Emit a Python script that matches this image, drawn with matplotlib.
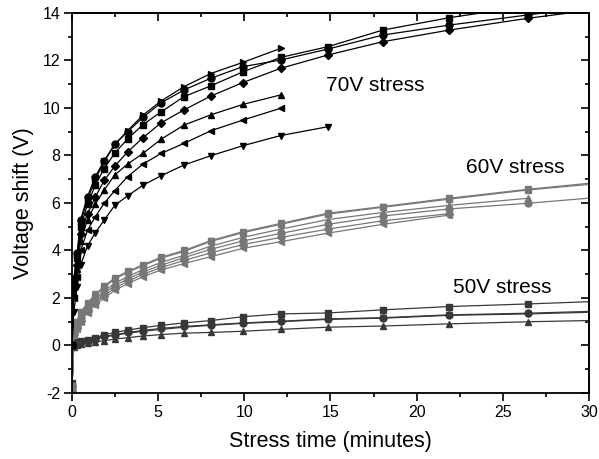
import matplotlib
matplotlib.use("Agg")
import matplotlib.pyplot as plt
from matplotlib.ticker import MultipleLocator

plt.rcParams['font.family'] = ['Liberation Sans', 'DejaVu Sans']
plt.rcParams['axes.unicode_minus'] = False

# ---- data ----
t = [0, 0.1, 0.3, 0.5, 0.9, 1.35, 1.87, 2.48, 3.23, 4.12, 5.18, 6.5, 8.05,
     9.91, 12.11, 14.84, 18.03, 21.88, 26.48, 32.1]

# 70V stress (black)
v70_circle = [0.0, 2.8, 3.9, 5.3, 6.27, 7.11, 7.78, 8.48, 9.0, 9.61, 10.22, 10.76,
              11.25, 11.74, 12.02, 12.48, 13.07, 13.49, 13.92, 14.45]
v70_square = [0.0, 2.6, 3.7, 5.0, 5.95, 6.75, 7.45, 8.1, 8.7, 9.3, 9.84, 10.48,
              10.93, 11.52, 12.13, 12.58, 13.28, 13.80, 14.3, 14.9]
v70_diamond = [0.0, 2.4, 3.4, 4.7, 5.55, 6.25, 6.95, 7.55, 8.15, 8.75, 9.38, 9.92,
               10.5, 11.07, 11.67, 12.23, 12.79, 13.28, 13.78, 14.3]
v70_right = [0.0, 2.7, 3.8, 5.2, 6.15, 7.0, 7.75, 8.45, 9.05, 9.7, 10.3, 10.9,
             11.45, 11.92, 12.51]
v70_up = [0.0, 2.2, 3.2, 4.4, 5.3, 5.95, 6.55, 7.18, 7.64, 8.09, 8.69, 9.28,
          9.71, 10.15, 10.55]
v70_left = [0.0, 2.0, 2.9, 4.0, 4.85, 5.42, 5.99, 6.52, 7.11, 7.64, 8.09, 8.51,
            9.04, 9.49, 9.99]
v70_down = [0.0, 1.4, 2.48, 3.39, 4.19, 4.75, 5.28, 5.9, 6.3, 6.75, 7.15, 7.6,
            7.99, 8.41, 8.84, 9.21]

# 60V stress (grey)
v60_down = [-1.7, 0.75, 1.0, 1.4, 1.8, 2.15, 2.5, 2.85, 3.12, 3.4, 3.72, 4.0,
            4.42, 4.79, 5.14, 5.57, 5.85, 6.2, 6.58, 6.98]
v60_square = [-1.7, 0.7, 0.95, 1.35, 1.75, 2.1, 2.45, 2.8, 3.08, 3.36, 3.68, 3.96,
              4.38, 4.75, 5.1, 5.53, 5.82, 6.16, 6.55, 6.92]
v60_up = [-1.8, 0.6, 0.85, 1.2, 1.6, 1.95, 2.3, 2.62, 2.9, 3.2, 3.5, 3.8,
          4.18, 4.55, 4.9, 5.3, 5.6, 5.9, 6.2]
v60_circle = [-1.8, 0.55, 0.8, 1.15, 1.5, 1.85, 2.2, 2.52, 2.8, 3.1, 3.38, 3.7,
              4.05, 4.4, 4.72, 5.1, 5.45, 5.75, 5.99, 6.33]
v60_diamond = [-1.9, 0.5, 0.75, 1.05, 1.45, 1.78, 2.1, 2.42, 2.7, 3.0, 3.28, 3.58,
               3.9, 4.25, 4.55, 4.9, 5.25, 5.55]
v60_left = [-1.9, 0.45, 0.7, 1.0, 1.38, 1.7, 2.0, 2.32, 2.6, 2.9, 3.18, 3.45,
            3.74, 4.09, 4.37, 4.73, 5.1, 5.49]

# 50V stress (dark grey)
v50_square = [-1.6, 0.05, 0.15, 0.2, 0.25, 0.32, 0.45, 0.55, 0.65, 0.75, 0.85, 0.95,
              1.05, 1.21, 1.33, 1.37, 1.5, 1.64, 1.75, 1.9]
v50_circle = [-1.7, 0.0, 0.1, 0.15, 0.2, 0.28, 0.38, 0.45, 0.55, 0.63, 0.72, 0.8,
              0.87, 0.95, 1.02, 1.12, 1.17, 1.29, 1.36, 1.48]
v50_down = [-1.7, 0.02, 0.1, 0.15, 0.2, 0.27, 0.36, 0.43, 0.52, 0.6, 0.68, 0.77,
            0.85, 0.93, 1.0, 1.1, 1.15, 1.27, 1.33, 1.44]
v50_up = [-1.8, -0.05, 0.0, 0.05, 0.1, 0.15, 0.2, 0.27, 0.33, 0.4, 0.46, 0.52,
          0.55, 0.6, 0.68, 0.77, 0.82, 0.91, 1.0, 1.08]

labels = ["70V stress", "60V stress", "50V stress"]
xticks = [0, 5, 10, 15, 20, 25, 30]
yticks = [-2, 0, 2, 4, 6, 8, 10, 12, 14]

c70, c60, c50 = "#000000", "#777777", "#383838"

fig = plt.figure(figsize=(5.99, 4.59), dpi=100)
ax = fig.add_axes([0.1202, 0.1438, 0.8631, 0.8279])

def draw(vals, marker, color, ms=5, lw=0.9):
    ax.plot(t[:len(vals)], vals, marker=marker, color=color, ms=ms, lw=lw,
            mec=color, mfc=color)

for vals, m in [(v50_up, '^'), (v50_down, 'v'), (v50_circle, 'o'), (v50_square, 's')]:
    draw(vals, m, c50)
for vals, m in [(v60_left, '<'), (v60_diamond, 'D'), (v60_circle, 'o'), (v60_up, '^'),
                (v60_square, 's'), (v60_down, 'v')]:
    draw(vals, m, c60, ms=5 if m != 'D' else 4)
for vals, m in [(v70_down, 'v'), (v70_left, '<'), (v70_up, '^'), (v70_diamond, 'D'),
                (v70_square, 's'), (v70_circle, 'o'), (v70_right, '>')]:
    draw(vals, m, c70, ms=5 if m != 'D' else 4)

ax.set_xlim(0, 30)
ax.set_ylim(-2, 14)
ax.set_xticks(xticks)
ax.set_yticks(yticks)
ax.xaxis.set_minor_locator(MultipleLocator(2.5))
ax.yaxis.set_minor_locator(MultipleLocator(1))
ax.tick_params(which='both', direction='out', top=False, right=False,
               width=1.2, labelsize=11.5, pad=3)
ax.tick_params(which='major', length=5.5)
ax.tick_params(which='minor', length=2.8)
for s in ax.spines.values():
    s.set_linewidth(1.3)

secx = ax.secondary_xaxis('top')
secx.set_xticks(xticks)
secx.xaxis.set_minor_locator(MultipleLocator(2.5))
secx.tick_params(which='both', direction='in', labeltop=False, width=1.2)
secx.tick_params(which='major', length=5.5)
secx.tick_params(which='minor', length=2.8)
secx.spines['top'].set_linewidth(1.3)

secy = ax.secondary_yaxis('right')
secy.set_yticks(yticks)
secy.yaxis.set_minor_locator(MultipleLocator(1))
secy.tick_params(which='both', direction='in', labelright=False, width=1.2)
secy.tick_params(which='major', length=6)
secy.tick_params(which='minor', length=3)
secy.spines['right'].set_linewidth(1.3)

ax.set_xlabel("Stress time (minutes)", fontsize=15.5, labelpad=8)
ax.set_ylabel("Voltage shift (V)", fontsize=15.5, labelpad=6)

ax.text(14.74, 10.93, labels[0], fontsize=15, va='center', ha='left')
ax.text(22.87, 7.49, labels[1], fontsize=15, va='center', ha='left')
ax.text(22.09, 2.46, labels[2], fontsize=15, va='center', ha='left')

fig.savefig("out.png", dpi=100)
